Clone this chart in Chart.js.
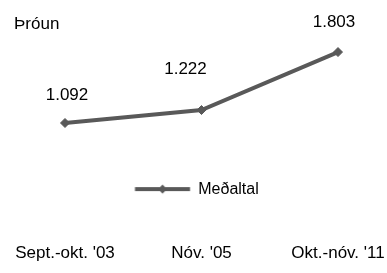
<!DOCTYPE html>
<html>
<head>
<meta charset="utf-8">
<script src="https://cdn.jsdelivr.net/npm/chart.js@4"></script>
<style>
html, body { margin:0; padding:0; background:#fff; }
</style>
</head>
<body>
<canvas id="trendChart" width="387" height="273"></canvas>
<script>

/* DATA */

const categories = ["Sept.-okt. '03", "Nóv. '05", "Okt.-nóv. '11"];

const averageValues = [1092, 1222, 1803];

const seriesName = "Meðaltal";

const yMin = 700;
const yMax = 1980;


/* HELPERS */

const lineColor = "#595959";

function formatIs(v){
  return String(v).replace(/\B(?=(\d{3})+(?!\d))/g, ".");
}

// line with a diamond in the middle, used as the legend symbol
// (canvas is a bit wider than the legend box so the line sits slightly left)
function makeLegendMarker(color){
  const c = document.createElement("canvas");
  c.width = 66;
  c.height = 12;
  const g = c.getContext("2d");
  g.strokeStyle = color;
  g.lineWidth = 4;
  g.beginPath();
  g.moveTo(0.75, 6);
  g.lineTo(55.75, 6);
  g.stroke();
  g.fillStyle = color;
  g.beginPath();
  g.moveTo(28.25, 1.5);
  g.lineTo(32.75, 6);
  g.lineTo(28.25, 10.5);
  g.lineTo(23.75, 6);
  g.closePath();
  g.fill();
  return c;
}

const legendMarker = makeLegendMarker(lineColor);

/* value labels above each point */
const pointLabels = {
  id: "pointLabels",
  afterDatasetsDraw(chart, args, opts){
    const ctx = chart.ctx;
    const meta = chart.getDatasetMeta(0);
    ctx.save();
    ctx.font = opts.font;
    ctx.fillStyle = opts.color;
    ctx.textAlign = "center";
    ctx.textBaseline = "middle";
    meta.data.forEach((pt, i) => {
      const off = opts.offsets[i] || [0, -25];
      ctx.fillText(formatIs(averageValues[i]), pt.x + off[0], pt.y + off[1]);
    });
    ctx.restore();
  }
};


/* CHART */

Chart.defaults.font.family = '"Liberation Sans", Arial, sans-serif';
Chart.defaults.font.size = 16;
Chart.defaults.color = "#000";

new Chart(document.getElementById("trendChart"), {

  type: "line",

  data: {
    labels: categories,
    datasets: [{
      label: seriesName,
      data: averageValues,
      borderColor: lineColor,
      backgroundColor: lineColor,
      borderWidth: 4,
      tension: 0,
      pointStyle: "rectRot",
      pointRadius: 4.5,
      pointBorderWidth: 1,
      pointBackgroundColor: lineColor,
      pointBorderColor: lineColor
    }]
  },

  options: {
    responsive: false,
    animation: false,
    layout: {
      padding: { left: 14, right: 49, top: 0, bottom: 9.5 }
    },
    scales: {
      x: {
        offset: false,
        grid: { display: false, drawTicks: false },
        border: { display: false },
        ticks: { padding: 36, maxRotation: 0, autoSkip: false, color: "#000", font: { size: 17 } },
        afterFit(scale){
          // labels hang outside the plot like in the original, don't shrink the plot for them
          scale.paddingLeft = 0;
          scale.paddingRight = 0;
          scale.height = 56.4;
        }
      },
      y: {
        min: yMin,
        max: yMax,
        grid: { display: false, drawTicks: false },
        border: { display: false },
        ticks: { display: false },
        afterFit(scale){ scale.width = 51; }
      }
    },
    plugins: {
      title: {
        display: true,
        text: "Þróun",
        align: "start",
        color: "#000",
        font: { size: 17, weight: "normal" },
        padding: { top: 14, bottom: 0 }
      },
      legend: {
        position: "bottom",
        fullSize: false,
        weight: -1,
        labels: {
          usePointStyle: true,
          pointStyleWidth: 46,
          padding: 19,
          color: "#000",
          font: { size: 16 },
          generateLabels(chart){
            const items = Chart.defaults.plugins.legend.labels.generateLabels(chart);
            items.forEach(it => { it.pointStyle = legendMarker; });
            return items;
          }
        }
      },
      tooltip: { enabled: false },
      pointLabels: {
        font: '17px "Liberation Sans", Arial, sans-serif',
        color: "#000",
        offsets: [[2, -28], [-16, -41], [-4, -30]]
      }
    }
  },

  plugins: [pointLabels]

});

</script>
</body>
</html>
